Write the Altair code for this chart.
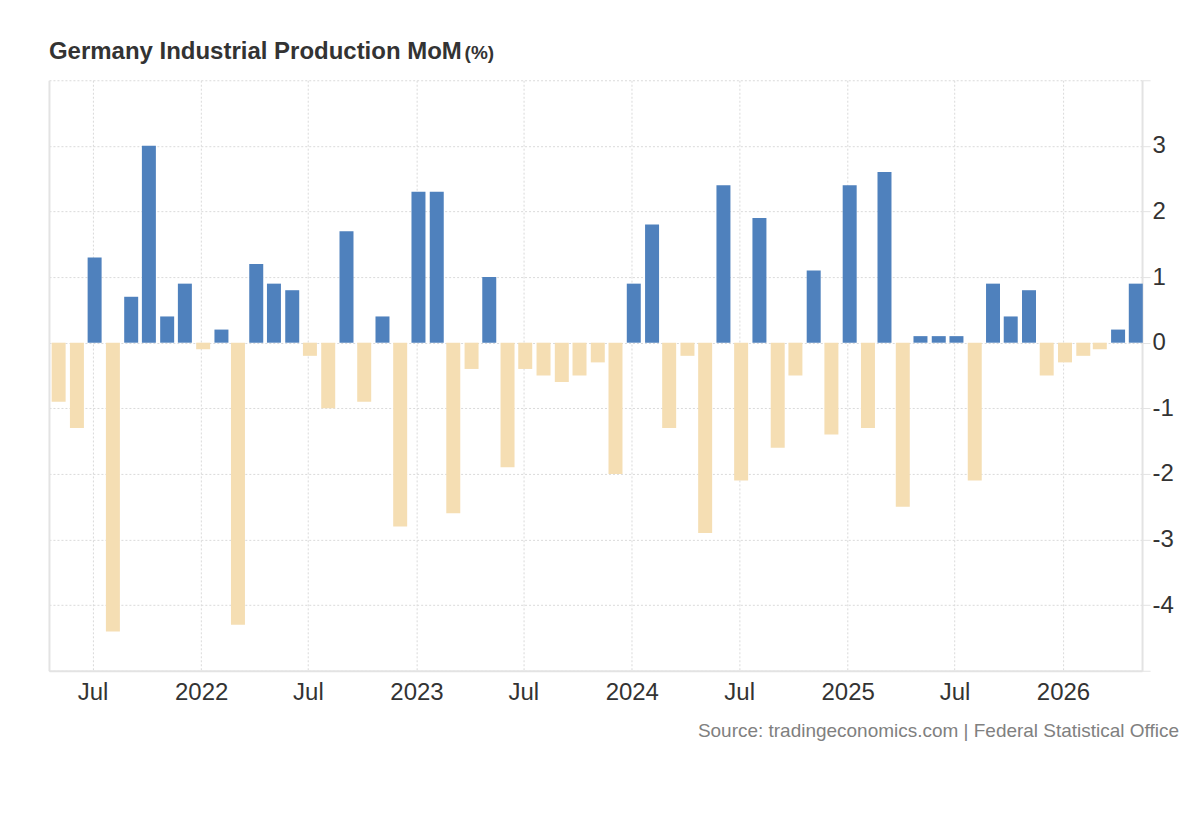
import altair as alt
import pandas as pd

# ---- data ----
months = pd.date_range("2021-05-01", periods=61, freq="MS").strftime("%Y-%m-%d").tolist()
values = [
    -0.9, -1.3, 1.3, -4.4, 0.7, 3.0, 0.4, 0.9,            # May-Dec 2021
    -0.1, 0.2, -4.3, 1.2, 0.9, 0.8, -0.2, -1.0, 1.7, -0.9, 0.4, -2.8,   # 2022
    2.3, 2.3, -2.6, -0.4, 1.0, -1.9, -0.4, -0.5, -0.6, -0.5, -0.3, -2.0,  # 2023
    0.9, 1.8, -1.3, -0.2, -2.9, 2.4, -2.1, 1.9, -1.6, -0.5, 1.1, -1.4,   # 2024
    2.4, -1.3, 2.6, -2.5, 0.1, 0.1, 0.1, -2.1, 0.9, 0.4, 0.8, -0.5,      # 2025
    -0.3, -0.2, -0.1, 0.2, 0.9,                                          # Jan-May 2026
]
y_ticks = [-5, -4, -3, -2, -1, 0, 1, 2, 3, 4]
x_ticks = [(2021, 7), (2022, 1), (2022, 7), (2023, 1), (2023, 7), (2024, 1),
           (2024, 7), (2025, 1), (2025, 7), (2026, 1)]
title_text = "Germany Industrial Production MoM"
unit_text = "(%)"
source_text = "Source: tradingeconomics.com | Federal Statistical Office"

df = pd.DataFrame({"date": months, "value": values})

W, H = 1094, 591
FONT = "Liberation Sans"
BLUE = "#4f81bd"
TAN = "#f5deb3"
GRID = "#dadada"
AXIS = "#e3e3e3"

x_scale = alt.Scale(
    type="utc", padding=0,
    domain=[alt.DateTime(year=2021, month=4, date=18, utc=True),
            alt.DateTime(year=2026, month=5, date=15, utc=True)],
)
y_scale = alt.Scale(domain=[-5, 4], nice=False, zero=False, padding=0)

x_axis = alt.Axis(
    values=[alt.DateTime(year=y, month=m, date=1, utc=True) for y, m in x_ticks],
    labelExpr="utcFormat(datum.value, '%m') == '01' ? utcFormat(datum.value, '%Y') : utcFormat(datum.value, '%b')",
    title=None,
    grid=True, gridColor=GRID, gridDash=[2, 2], gridWidth=1,
    ticks=False, domain=True, domainColor=AXIS, domainWidth=2,
    labelFont=FONT, labelFontSize=24, labelColor="#333333", labelPadding=10,
)

y_axis_right = alt.Axis(
    orient="right", values=y_ticks,
    labelExpr="datum.value >= 4 || datum.value <= -5 ? '' : '' + datum.value",
    title=None,
    grid=True, gridColor=GRID, gridDash=[2, 2], gridWidth=1,
    ticks=True, tickSize=8, tickColor=AXIS, tickWidth=1,
    domain=True, domainColor=AXIS, domainWidth=2,
    labelFont=FONT, labelFontSize=24, labelColor="#333333", labelPadding=2,
)

y_axis_left = alt.Axis(
    orient="left", title=None, labels=False, ticks=False, grid=False,
    domain=True, domainColor=AXIS, domainWidth=2,
)

bars = alt.Chart(df).mark_bar(width=14, xOffset=2).encode(
    x=alt.X("date:T", scale=x_scale, axis=x_axis),
    y=alt.Y("value:Q", scale=y_scale, axis=y_axis_right),
    color=alt.when(alt.datum.value > 0).then(alt.value(BLUE)).otherwise(alt.value(TAN)),
)

frame = alt.Chart(df).mark_bar(opacity=0).encode(
    x=alt.X("date:T", scale=x_scale),
    y=alt.Y("value:Q", scale=y_scale, axis=y_axis_left),
)

title = alt.Chart(pd.DataFrame({"t": [title_text]})).mark_text(
    align="left", baseline="alphabetic", font=FONT, fontSize=24,
    fontWeight="bold", color="#333333",
).encode(text="t:N", x=alt.value(0), y=alt.value(-21))

unit = alt.Chart(pd.DataFrame({"t": [unit_text]})).mark_text(
    align="left", baseline="alphabetic", font=FONT, fontSize=19,
    fontWeight="bold", color="#333333",
).encode(text="t:N", x=alt.value(416), y=alt.value(-21))

source = alt.Chart(pd.DataFrame({"t": [source_text]})).mark_text(
    align="right", baseline="alphabetic", font=FONT, fontSize=19,
    color="#808080",
).encode(text="t:N", x=alt.value(1131), y=alt.value(657))

chart = alt.layer(bars, frame, title, unit, source).resolve_axis(
    y="independent"
).properties(
    width=W, height=H,
    padding={"left": 41, "top": 72, "right": 50, "bottom": 80},
    autosize=alt.AutoSizeParams(type="none"),
).configure_view(stroke=None)

chart.save("out.html", embed_options={"renderer": "svg", "actions": False})
